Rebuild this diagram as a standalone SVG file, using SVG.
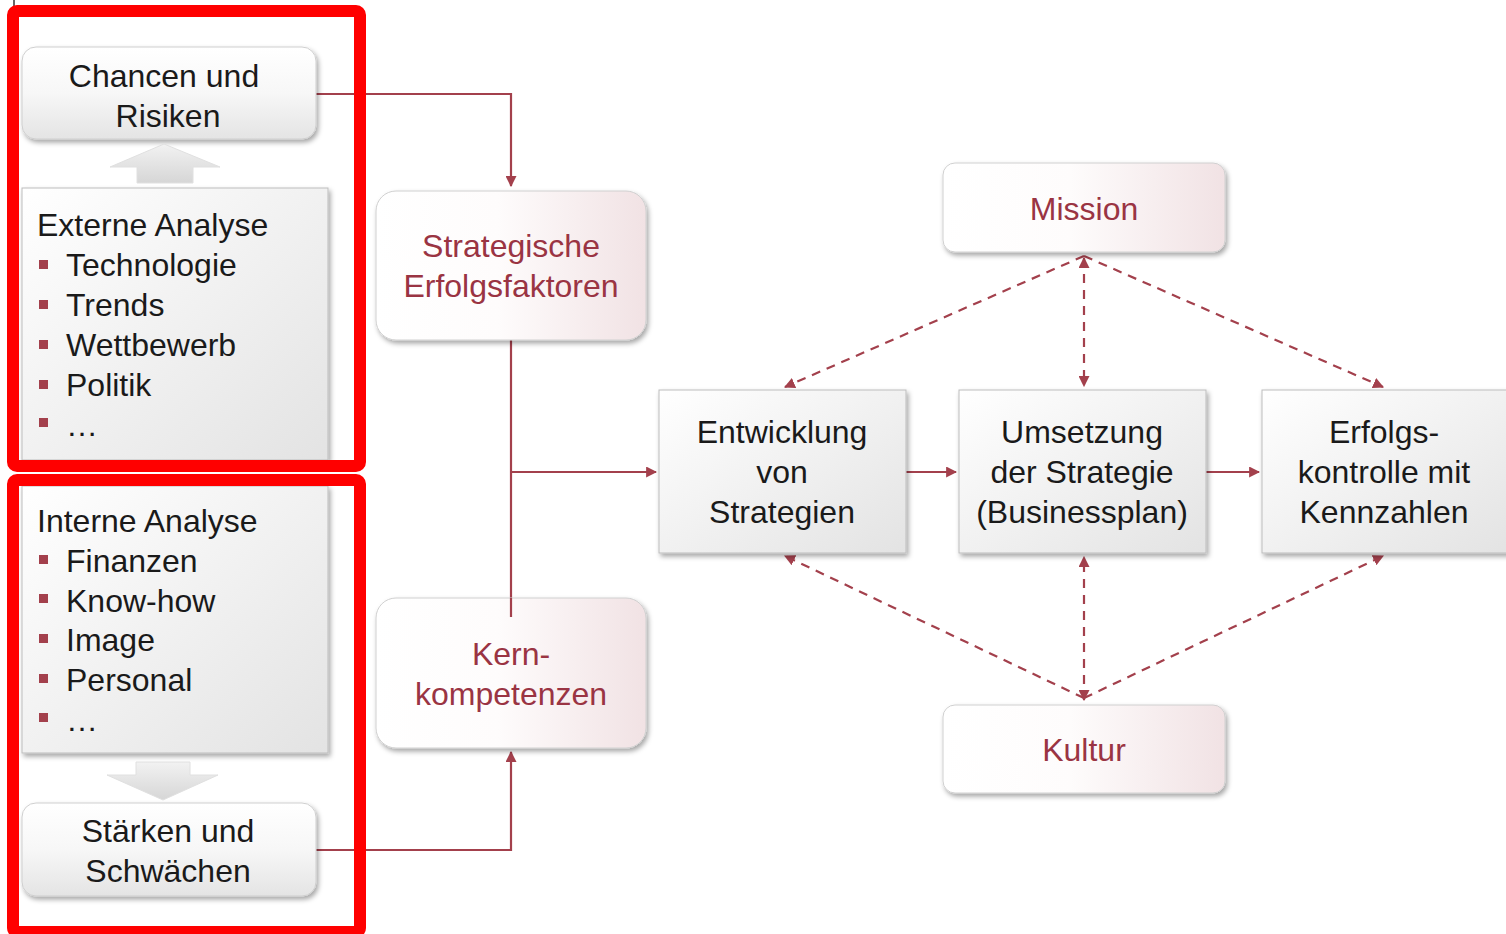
<svg xmlns="http://www.w3.org/2000/svg" width="1506" height="934" viewBox="0 0 1506 934">
<style>
text{font-family:"Liberation Sans",Arial,sans-serif;font-size:32px}
.t{fill:#1a1a1a}
.r{fill:#9a3443}
.m{text-anchor:middle}
.conn{fill:none;stroke:#a3404c;stroke-width:2.2}
.dash{fill:none;stroke:#a3404c;stroke-width:2.2;stroke-dasharray:9 7}
.bul{fill:#a3404c}
.frame{fill:none;stroke:#ff0000;stroke-width:12}
</style>
<defs>
<linearGradient id="gGray" x1="0" y1="0" x2="0" y2="1"><stop offset="0" stop-color="#ffffff"/><stop offset="0.5" stop-color="#f7f7f7"/><stop offset="1" stop-color="#e4e4e4"/></linearGradient>
<linearGradient id="gSq" x1="0" y1="0" x2="1" y2="1"><stop offset="0" stop-color="#ffffff"/><stop offset="1" stop-color="#e3e3e3"/></linearGradient>
<linearGradient id="gPink" x1="0" y1="0" x2="1" y2="0"><stop offset="0" stop-color="#ffffff"/><stop offset="0.45" stop-color="#fefcfc"/><stop offset="1" stop-color="#f1e2e4"/></linearGradient>
<linearGradient id="gArrow" x1="0" y1="0" x2="0" y2="1"><stop offset="0" stop-color="#f2f2f2"/><stop offset="1" stop-color="#d6d6d6"/></linearGradient>
<filter id="sh" x="-10%" y="-10%" width="125%" height="130%"><feDropShadow dx="2" dy="3" stdDeviation="2.5" flood-color="#000" flood-opacity="0.35"/></filter>
<marker id="ah" viewBox="0 0 10 10" refX="9" refY="5" markerWidth="5" markerHeight="5" orient="auto-start-reverse" markerUnits="strokeWidth"><path d="M0,0 L10,5 L0,10 z" fill="#a3404c"/></marker>
</defs>

<line x1="14" y1="0" x2="14" y2="6" stroke="#333" stroke-width="1.5"/>

<g id="connectors">
<path class="conn" d="M316,94 H511 V186" marker-end="url(#ah)"/>
<path class="conn" d="M316,850 H511 V752" marker-end="url(#ah)"/>
<path class="conn" d="M511,340 V617"/>
<path class="conn" d="M511,472 H656" marker-end="url(#ah)"/>
<path class="conn" d="M906,472 H956" marker-end="url(#ah)"/>
<path class="conn" d="M1206,472 H1259" marker-end="url(#ah)"/>
<path class="dash" d="M1084,256 L785,387" marker-end="url(#ah)"/>
<path class="dash" d="M1084,258 V386" marker-start="url(#ah)" marker-end="url(#ah)"/>
<path class="dash" d="M1084,256 L1383,387" marker-end="url(#ah)"/>
<path class="dash" d="M1084,698 L785,556" marker-end="url(#ah)"/>
<path class="dash" d="M1084,700 V557" marker-start="url(#ah)" marker-end="url(#ah)"/>
<path class="dash" d="M1084,698 L1383,556" marker-end="url(#ah)"/>
</g>

<g id="chancen">
<rect x="22" y="47" width="294" height="92" rx="14" fill="url(#gGray)" stroke="#cfcfcf" filter="url(#sh)"/>
<text class="t m" x="164" y="87">Chancen und</text>
<text class="t m" x="168" y="127">Risiken</text>
</g>

<g id="arrow-up">
<path d="M110,167 L164,144 L220,167 L193,167 L193,183 L137,183 L137,167 Z" fill="url(#gArrow)" stroke="#e0e0e0"/>
</g>

<g id="externe">
<rect x="22" y="188" width="306" height="272" fill="url(#gSq)" stroke="#bdbdbd" filter="url(#sh)"/>
<text class="t" x="37" y="236">Externe Analyse</text>
<rect class="bul" x="39" y="260" width="9" height="9"/><text class="t" x="66" y="276">Technologie</text>
<rect class="bul" x="39" y="300" width="9" height="9"/><text class="t" x="66" y="316">Trends</text>
<rect class="bul" x="39" y="340" width="9" height="9"/><text class="t" x="66" y="356">Wettbewerb</text>
<rect class="bul" x="39" y="380" width="9" height="9"/><text class="t" x="66" y="396">Politik</text>
<rect class="bul" x="39" y="418" width="9" height="9"/><text class="t" x="66" y="436">…</text>
</g>

<g id="interne">
<rect x="22" y="486" width="306" height="267" fill="url(#gSq)" stroke="#bdbdbd" filter="url(#sh)"/>
<text class="t" x="37" y="532">Interne Analyse</text>
<rect class="bul" x="39" y="555" width="9" height="9"/><text class="t" x="66" y="572">Finanzen</text>
<rect class="bul" x="39" y="594" width="9" height="9"/><text class="t" x="66" y="612">Know-how</text>
<rect class="bul" x="39" y="634" width="9" height="9"/><text class="t" x="66" y="651">Image</text>
<rect class="bul" x="39" y="674" width="9" height="9"/><text class="t" x="66" y="691">Personal</text>
<rect class="bul" x="39" y="713" width="9" height="9"/><text class="t" x="66" y="731">…</text>
</g>

<g id="arrow-down">
<path d="M136,762 L190,762 L190,775 L218,775 L163,800 L107,775 L136,775 Z" fill="url(#gArrow)" stroke="#e0e0e0"/>
</g>

<g id="staerken">
<rect x="22" y="803" width="294" height="93" rx="14" fill="url(#gGray)" stroke="#cfcfcf" filter="url(#sh)"/>
<text class="t m" x="168" y="842">Stärken und</text>
<text class="t m" x="168" y="882">Schwächen</text>
</g>

<g id="strategische">
<rect x="376" y="191" width="270" height="149" rx="20" fill="url(#gPink)" stroke="#d0d0d0" filter="url(#sh)"/>
<text class="r m" x="511" y="257">Strategische</text>
<text class="r m" x="511" y="297">Erfolgsfaktoren</text>
</g>

<g id="kern">
<rect x="376" y="598" width="270" height="150" rx="20" fill="url(#gPink)" stroke="#d0d0d0" filter="url(#sh)"/>
<text class="r m" x="511" y="665">Kern-</text>
<text class="r m" x="511" y="705">kompetenzen</text>
</g>
<path class="conn" d="M511,598 V617"/>

<g id="mission">
<rect x="943" y="163" width="282" height="89" rx="12" fill="url(#gPink)" stroke="#d0d0d0" filter="url(#sh)"/>
<text class="r m" x="1084" y="220">Mission</text>
</g>

<g id="kultur">
<rect x="943" y="705" width="282" height="88" rx="12" fill="url(#gPink)" stroke="#d0d0d0" filter="url(#sh)"/>
<text class="r m" x="1084" y="761">Kultur</text>
</g>

<g id="entwicklung">
<rect x="659" y="390" width="247" height="163" fill="url(#gSq)" stroke="#bdbdbd" filter="url(#sh)"/>
<text class="t m" x="782" y="443">Entwicklung</text>
<text class="t m" x="782" y="483">von</text>
<text class="t m" x="782" y="523">Strategien</text>
</g>

<g id="umsetzung">
<rect x="959" y="390" width="247" height="163" fill="url(#gSq)" stroke="#bdbdbd" filter="url(#sh)"/>
<text class="t m" x="1082" y="443">Umsetzung</text>
<text class="t m" x="1082" y="483">der Strategie</text>
<text class="t m" x="1082" y="523">(Businessplan)</text>
</g>

<g id="erfolgskontrolle">
<rect x="1262" y="390" width="250" height="163" fill="url(#gSq)" stroke="#bdbdbd" filter="url(#sh)"/>
<text class="t m" x="1384" y="443">Erfolgs-</text>
<text class="t m" x="1384" y="483">kontrolle mit</text>
<text class="t m" x="1384" y="523">Kennzahlen</text>
</g>

<g id="frames">
<rect class="frame" x="13" y="11" width="347" height="455" rx="4"/>
<rect class="frame" x="13" y="480" width="347" height="452" rx="4"/>
</g>
</svg>
